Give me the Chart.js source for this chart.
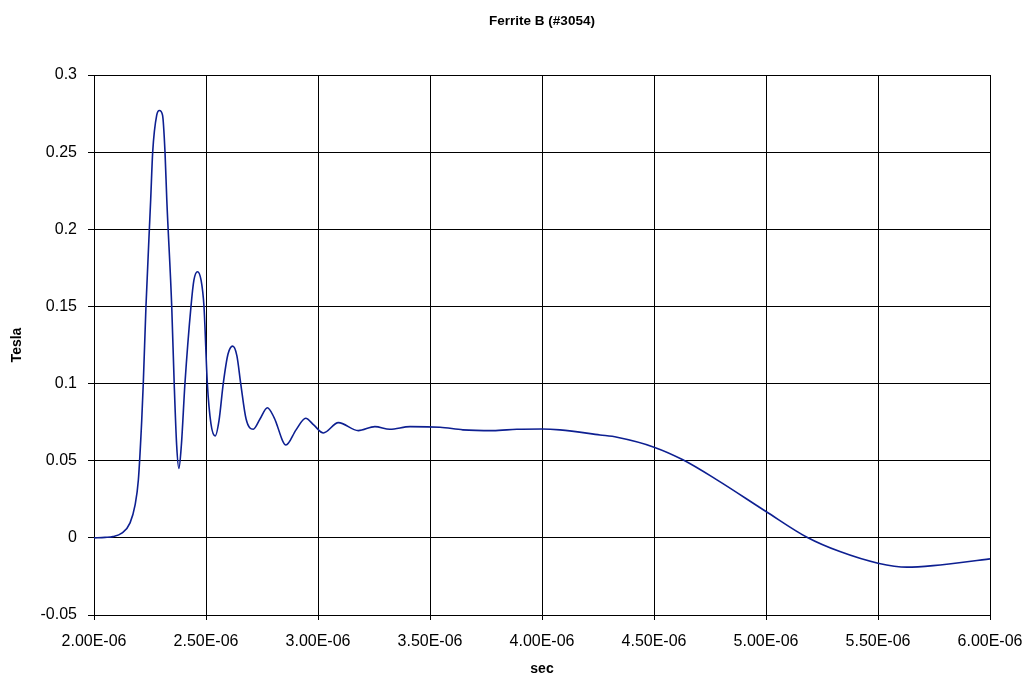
<!DOCTYPE html>
<html>
<head>
<meta charset="utf-8">
<script src="https://cdn.jsdelivr.net/npm/chart.js@4.4.1/dist/chart.umd.min.js"></script>
<style>
  html, body { margin: 0; padding: 0; background: #fff; }
  #wrap { width: 1033px; height: 686px; position: relative; }
</style>
</head>
<body>
<div id="wrap"><canvas id="c" width="1033" height="686"></canvas></div>
<script>
// Time in microseconds
const timeMicrosec = [
  2.000, 2.049, 2.085, 2.124, 2.161, 2.183, 2.198, 2.213, 2.220, 2.232,
  2.253, 2.262, 2.280, 2.292, 2.306, 2.317, 2.325, 2.347, 2.358, 2.369,
  2.379, 2.390, 2.406, 2.433, 2.446, 2.462, 2.478, 2.491, 2.506, 2.522,
  2.541, 2.558, 2.577, 2.598, 2.619, 2.638, 2.655, 2.679, 2.711, 2.741,
  2.774, 2.804, 2.857, 2.902, 2.945, 2.982, 3.024, 3.091, 3.180, 3.254,
  3.321, 3.411, 3.545, 3.647, 3.781, 3.888, 4.000, 4.080, 4.259, 4.335,
  4.500, 4.629, 4.781, 5.000, 5.183, 5.330, 5.500, 5.629, 5.746, 6.000
];
// Flux density in tesla
const teslaValues = [
  0.0000, 0.0003, 0.0008, 0.0030, 0.0097, 0.0210, 0.0375, 0.0760, 0.1000, 0.1500,
  0.2190, 0.2500, 0.2740, 0.2770, 0.2740, 0.2500, 0.2190, 0.1500, 0.1000, 0.0600,
  0.0450, 0.0600, 0.1000, 0.1500, 0.1670, 0.1725, 0.1670, 0.1500, 0.1000, 0.0740,
  0.0660, 0.0760, 0.1000, 0.1190, 0.1243, 0.1180, 0.1000, 0.0770, 0.0704, 0.0770,
  0.0843, 0.0780, 0.0602, 0.0700, 0.0775, 0.0730, 0.0680, 0.0747, 0.0695, 0.0721,
  0.0704, 0.0721, 0.0717, 0.0700, 0.0695, 0.0704, 0.0706, 0.0700, 0.0667, 0.0652,
  0.0588, 0.0506, 0.0376, 0.0171, 0.0004, -0.0089, -0.0164, -0.0190, -0.0180, -0.0136
];
const xTickLabels = ['2.00E-06','2.50E-06','3.00E-06','3.50E-06','4.00E-06','4.50E-06','5.00E-06','5.50E-06','6.00E-06'];
const yTickLabels = ['0.3','0.25','0.2','0.15','0.1','0.05','0','-0.05'];

const points = timeMicrosec.map((t, i) => ({ x: t, y: teslaValues[i] }));

const FONT = "'Liberation Sans', Arial, sans-serif";

new Chart(document.getElementById('c'), {
  type: 'line',
  data: {
    datasets: [{
      label: 'B',
      data: points,
      borderColor: '#0d1f91',
      borderWidth: 1.6,
      pointRadius: 0,
      fill: false,
      cubicInterpolationMode: 'monotone'
    }]
  },
  options: {
    responsive: false,
    animation: false,
    devicePixelRatio: 1,
    layout: { padding: 0 },
    plugins: {
      legend: { display: false },
      tooltip: { enabled: false },
      title: {
        display: true,
        text: 'Ferrite B (#3054)',
        fullSize: false,
        color: '#000',
        font: { family: FONT, size: 13.5, weight: 'bold' },
        padding: { top: 13, bottom: 45.8 }
      }
    },
    scales: {
      x: {
        type: 'linear',
        min: 2,
        max: 6,
        afterFit: (s) => { s.height = 71; s.paddingLeft = 0; s.paddingRight = 43; },
        ticks: {
          stepSize: 0.5,
          color: '#000',
          font: { family: FONT, size: 16 },
          padding: 12,
          maxRotation: 0,
          callback: (v, i) => xTickLabels[i]
        },
        grid: { color: '#000', lineWidth: 1, tickLength: 5 },
        border: { color: '#000', width: 1 },
        title: {
          display: true,
          text: 'sec',
          color: '#000',
          font: { family: FONT, size: 14, weight: 'bold' },
          padding: { top: 0, bottom: 8 }
        }
      },
      y: {
        type: 'linear',
        min: -0.05,
        max: 0.3,
        afterFit: (s) => { s.width = 94; s.paddingTop = 0; s.paddingBottom = 0; },
        ticks: {
          stepSize: 0.05,
          color: '#000',
          font: { family: FONT, size: 16 },
          padding: 11,
          callback: (v, i, arr) => yTickLabels[arr.length - 1 - i]
        },
        grid: { color: '#000', lineWidth: 1, tickLength: 6 },
        border: { color: '#000', width: 1 },
        title: {
          display: true,
          text: 'Tesla',
          color: '#000',
          font: { family: FONT, size: 14, weight: 'bold' },
          padding: { top: 9, bottom: 0 }
        }
      }
    }
  }
});
</script>
</body>
</html>
